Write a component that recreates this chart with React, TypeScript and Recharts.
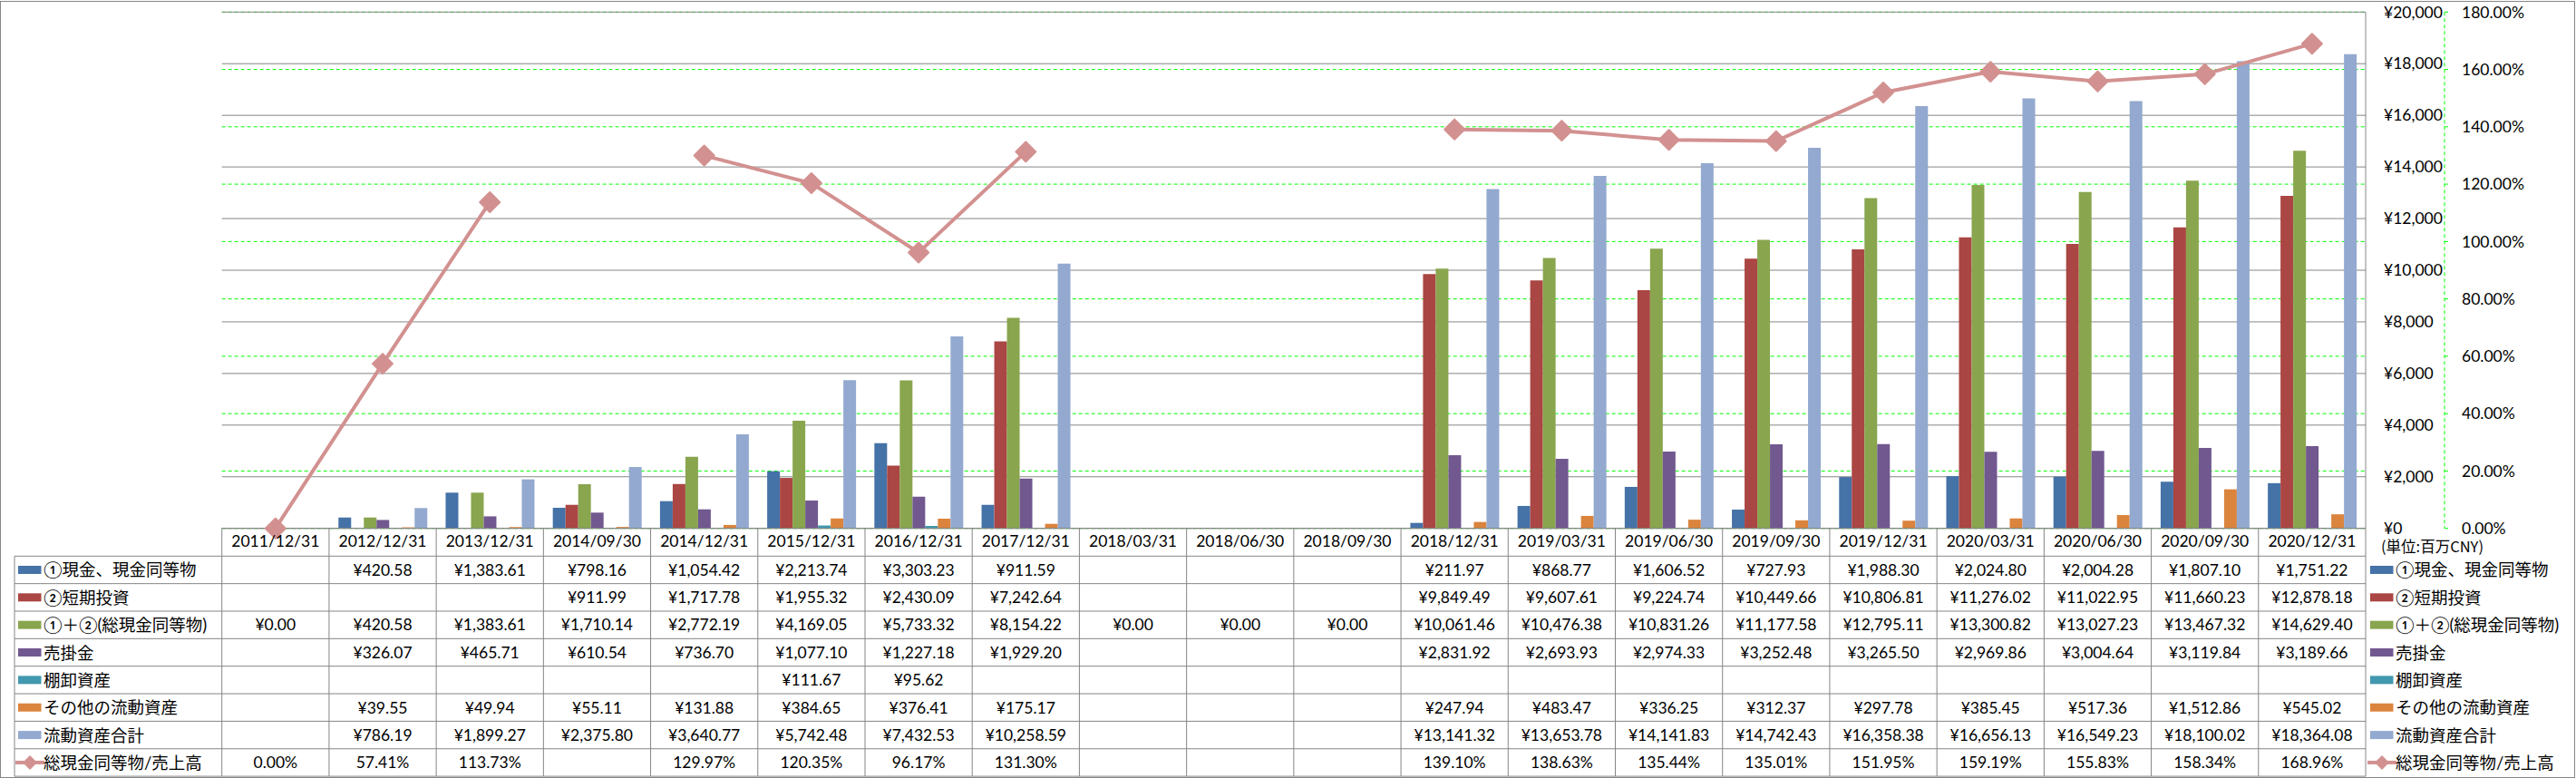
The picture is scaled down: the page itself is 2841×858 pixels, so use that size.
import React from 'react';
import { ComposedChart, Bar, Line, XAxis, YAxis, CartesianGrid } from 'recharts';

// 期末日
const categories = [
  '2011/12/31', '2012/12/31', '2013/12/31', '2014/09/30', '2014/12/31',
  '2015/12/31', '2016/12/31', '2017/12/31', '2018/03/31', '2018/06/30',
  '2018/09/30', '2018/12/31', '2019/03/31', '2019/06/30', '2019/09/30',
  '2019/12/31', '2020/03/31', '2020/06/30', '2020/09/30', '2020/12/31',
];

// 単位: 百万CNY
const cash = [null, 420.58, 1383.61, 798.16, 1054.42, 2213.74, 3303.23, 911.59, null, null, null, 211.97, 868.77, 1606.52, 727.93, 1988.3, 2024.8, 2004.28, 1807.1, 1751.22];
const shortInvest = [null, null, null, 911.99, 1717.78, 1955.32, 2430.09, 7242.64, null, null, null, 9849.49, 9607.61, 9224.74, 10449.66, 10806.81, 11276.02, 11022.95, 11660.23, 12878.18];
const totalCash = [0, 420.58, 1383.61, 1710.14, 2772.19, 4169.05, 5733.32, 8154.22, 0, 0, 0, 10061.46, 10476.38, 10831.26, 11177.58, 12795.11, 13300.82, 13027.23, 13467.32, 14629.4];
const receivables = [null, 326.07, 465.71, 610.54, 736.7, 1077.1, 1227.18, 1929.2, null, null, null, 2831.92, 2693.93, 2974.33, 3252.48, 3265.5, 2969.86, 3004.64, 3119.84, 3189.66];
const inventory = [null, null, null, null, null, 111.67, 95.62, null, null, null, null, null, null, null, null, null, null, null, null, null];
const otherCurrent = [null, 39.55, 49.94, 55.11, 131.88, 384.65, 376.41, 175.17, null, null, null, 247.94, 483.47, 336.25, 312.37, 297.78, 385.45, 517.36, 1512.86, 545.02];
const currentTotal = [null, 786.19, 1899.27, 2375.8, 3640.77, 5742.48, 7432.53, 10258.59, null, null, null, 13141.32, 13653.78, 14141.83, 14742.43, 16358.38, 16656.13, 16549.23, 18100.02, 18364.08];
// %
const ratio = [0, 57.41, 113.73, null, 129.97, 120.35, 96.17, 131.3, null, null, null, 139.1, 138.63, 135.44, 135.01, 151.95, 159.19, 155.83, 158.34, 168.96];

const yenTicks = [0, 2000, 4000, 6000, 8000, 10000, 12000, 14000, 16000, 18000, 20000];
const pctTicks = [0, 20, 40, 60, 80, 100, 120, 140, 160, 180];

const RATIO_COLOR = '#D29190';

const barSeries = [
  { key: 'cash', name: '①現金、現金同等物', color: '#4572A7', values: cash },
  { key: 'shortInvest', name: '②短期投資', color: '#AA4643', values: shortInvest },
  { key: 'totalCash', name: '①＋②(総現金同等物)', color: '#89A54E', values: totalCash },
  { key: 'receivables', name: '売掛金', color: '#71588F', values: receivables },
  { key: 'inventory', name: '棚卸資産', color: '#4198AF', values: inventory },
  { key: 'otherCurrent', name: 'その他の流動資産', color: '#DB843D', values: otherCurrent },
  { key: 'currentTotal', name: '流動資産合計', color: '#93A9CF', values: currentTotal },
];
const ratioName = '総現金同等物/売上高';

const data = categories.map((cat, i) => {
  const row: any = { cat, ratio: ratio[i] };
  barSeries.forEach((s) => { row[s.key] = s.values[i]; });
  return row;
});

// レイアウト
const W = 2841;
const H = 858;
const PLOT_LEFT = 244.7;
const PLOT_TOP = 13.3;
const AXIS_Y = 582.7;
const PRIMARY_W = 87;
const SECONDARY_W = 145;
const PLOT_RIGHT = W - PRIMARY_W - SECONDARY_W;
const CAT_ROW_H = 30.6;
const ROW_H = 30.35;
const TABLE_LEFT = 16;
const COL_W = (PLOT_RIGHT - PLOT_LEFT) / categories.length;

const LATIN = "Lato, 'Noto Sans CJK JP', sans-serif";
const CJK = "'Noto Sans CJK JP', sans-serif";
const GRID = '#868686';

const YEN_AXIS = 'a';
const PCT_AXIS = 'b';

const fmtYen = (v: number) => '¥' + v.toLocaleString('en-US', { minimumFractionDigits: 2, maximumFractionDigits: 2 });
const fmtPct = (v: number) => v.toFixed(2) + '%';

const Diamond = (props: any) => {
  const { cx, cy, index } = props;
  if (cx == null || cy == null || Number.isNaN(cy)) return <g key={`d-${index}`} />;
  const r = 11;
  return (
    <polygon
      key={`d-${index}`}
      points={`${cx},${cy - r} ${cx + r},${cy} ${cx},${cy + r} ${cx - r},${cy}`}
      fill={RATIO_COLOR}
      stroke={RATIO_COLOR}
      strokeWidth={2}
      strokeLinejoin="round"
    />
  );
};

const CatTick = (props: any) => {
  const { x, y, payload } = props;
  return (
    <text x={x} y={y + 20.6} textAnchor="middle" fontFamily={LATIN} fontSize={17.5} fill="#000">
      {payload.value}
    </text>
  );
};

const LegendMark = ({ x, cy, color, line }: { x: number; cy: number; color: string; line?: boolean }) => {
  if (line) {
    const c = x + 13;
    return (
      <g>
        <line x1={x - 3} y1={cy} x2={x + 29} y2={cy} stroke={color} strokeWidth={4} />
        <polygon points={`${c},${cy - 8} ${c + 8},${cy} ${c},${cy + 8} ${c - 8},${cy}`} fill={color} />
      </g>
    );
  }
  return <rect x={x} y={cy - 4.5} width={25.5} height={9} fill={color} />;
};

const DataTable = () => {
  const rows = [
    ...barSeries.map((s) => ({ name: s.name, color: s.color, values: s.values, fmt: fmtYen, line: false })),
    { name: ratioName, color: RATIO_COLOR, values: ratio, fmt: fmtPct, line: true },
  ];
  const top = AXIS_Y + CAT_ROW_H;
  const bottom = top + rows.length * ROW_H;
  const hLines = rows.map((_, k) => top + k * ROW_H).concat([bottom]);
  return (
    <svg width={W} height={H} style={{ position: 'absolute', left: 0, top: 0, pointerEvents: 'none' }}>
      <rect x={0.5} y={1.5} width={W - 2} height={H - 2} fill="none" stroke={GRID} />
      {hLines.map((y, k) => (
        <line key={`h${k}`} x1={TABLE_LEFT} x2={PLOT_RIGHT} y1={y} y2={y} stroke={GRID} />
      ))}
      <line x1={TABLE_LEFT} x2={TABLE_LEFT} y1={top} y2={bottom} stroke={GRID} />
      {categories.map((_, i) => (
        <line key={`v${i}`} x1={PLOT_LEFT + i * COL_W} x2={PLOT_LEFT + i * COL_W} y1={AXIS_Y} y2={bottom} stroke={GRID} />
      ))}
      <line x1={PLOT_RIGHT} x2={PLOT_RIGHT} y1={AXIS_Y} y2={bottom} stroke={GRID} />
      {rows.map((r, k) => {
        const cy = top + (k + 0.5) * ROW_H;
        return (
          <g key={`r${k}`}>
            <LegendMark x={20} cy={cy} color={r.color} line={r.line} />
            <text x={48} y={cy + 7} fontFamily={LATIN} fontSize={18.5} fill="#000">{r.name}</text>
            <LegendMark x={2614} cy={cy} color={r.color} line={r.line} />
            <text x={2642} y={cy + 7} fontFamily={LATIN} fontSize={18.5} fill="#000">{r.name}</text>
            {r.values.map((v, i) =>
              v == null ? null : (
                <text
                  key={`c${i}`}
                  x={PLOT_LEFT + (i + 0.5) * COL_W}
                  y={cy + 6.3}
                  textAnchor="middle"
                  fontFamily={LATIN}
                  fontSize={17.5}
                  fill="#000"
                >
                  {r.fmt(v)}
                </text>
              )
            )}
          </g>
        );
      })}
      <text x={2626} y={609} fontFamily={CJK} fontSize={16.5} fill="#000">(単位:百万CNY)</text>
    </svg>
  );
};

export default function App() {
  return (
    <div style={{ position: 'absolute', left: 0, top: 0, width: W, height: H, background: '#fff' }}>
      <ComposedChart
        width={W}
        height={H}
        data={data}
        barCategoryGap="8.75%"
        barGap={0}
        margin={{ top: PLOT_TOP, left: PLOT_LEFT, right: 0, bottom: H - AXIS_Y - CAT_ROW_H }}
      >
        <CartesianGrid yAxisId={PCT_AXIS} vertical={false} stroke="#00FF00" strokeDasharray="4 3" />
        <CartesianGrid yAxisId={YEN_AXIS} vertical={false} stroke={GRID} />
        <XAxis
          dataKey="cat"
          interval={0}
          height={CAT_ROW_H}
          axisLine={{ stroke: GRID }}
          tickLine={false}
          tickSize={0}
          tickMargin={0}
          tick={<CatTick />}
        />
        <YAxis
          yAxisId={YEN_AXIS}
          orientation="right"
          width={PRIMARY_W}
          domain={[0, 20000]}
          ticks={yenTicks}
          axisLine={{ stroke: GRID }}
          tickLine={false}
          tickSize={0}
          tickMargin={20}
          tick={{ fill: '#000', fontSize: 17.5, fontFamily: LATIN }}
          tickFormatter={(v: number) => '¥' + v.toLocaleString('en-US')}
        />
        <YAxis
          yAxisId={PCT_AXIS}
          orientation="right"
          width={SECONDARY_W}
          domain={[0, 180]}
          ticks={pctTicks}
          axisLine={{ stroke: '#00FF00', strokeDasharray: '4 3' }}
          tickLine={{ stroke: '#00FF00' }}
          tickSize={4}
          tickMargin={15}
          tick={{ fill: '#000', fontSize: 17.5, fontFamily: LATIN }}
          tickFormatter={(v: number) => v.toFixed(2) + '%'}
        />
        {barSeries.map((s) => (
          <Bar key={s.key} yAxisId={YEN_AXIS} dataKey={s.key} name={s.name} fill={s.color} isAnimationActive={false} />
        ))}
        <Line
          yAxisId={PCT_AXIS}
          dataKey="ratio"
          name={ratioName}
          stroke={RATIO_COLOR}
          strokeWidth={4}
          dot={<Diamond />}
          activeDot={false}
          connectNulls={false}
          isAnimationActive={false}
        />
      </ComposedChart>
      <DataTable />
    </div>
  );
}
